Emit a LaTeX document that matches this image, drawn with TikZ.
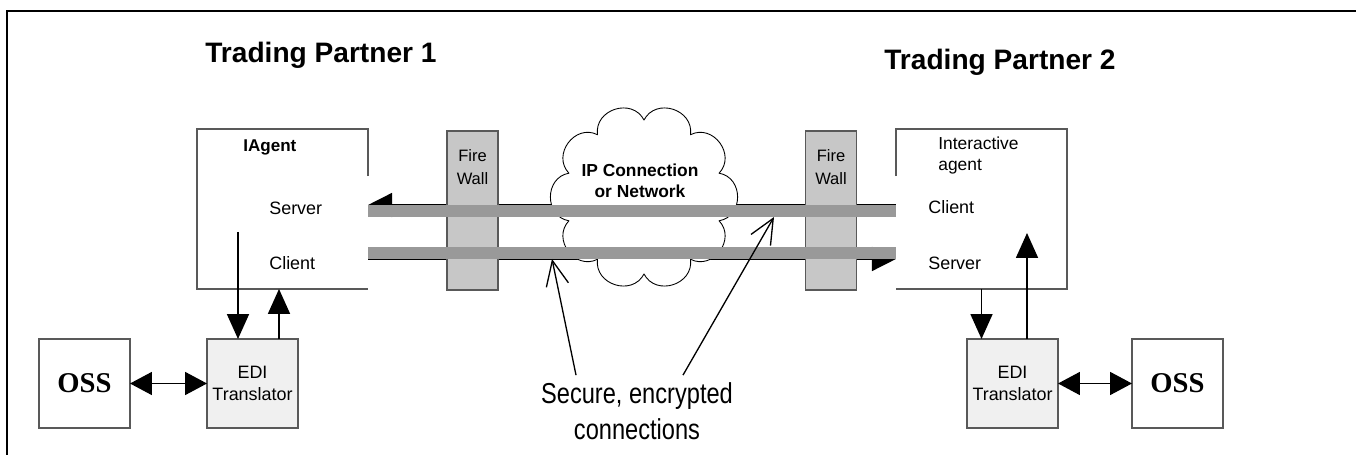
\documentclass[tikz,border=0pt]{standalone}
\usepackage{fontspec}
\setmainfont{Liberation Sans}
\newfontfamily\ossfont{Liberation Serif}
\newfontfamily\narrowfont[FakeStretch=0.82]{Liberation Sans}
\usepackage{tikz}
\usetikzlibrary{arrows.meta, calc, positioning}
\definecolor{boxline}{gray}{0.35}
\definecolor{wallgray}{gray}{0.78}
\definecolor{pipegray}{gray}{0.6}
\definecolor{edifill}{gray}{0.94}
\tikzset{
  frameline/.style  = {draw=black, line width=0.85pt},
  agentbox/.style   = {rectangle, minimum width=3.42cm, minimum height=3.2cm,
                       inner sep=0pt, outer sep=0pt},
  agentedge/.style  = {draw=boxline, line width=0.6pt},
  wallbox/.style    = {rectangle, draw=boxline, fill=wallgray, line width=0.6pt,
                       minimum width=1.02cm, minimum height=3.18cm, inner sep=0pt},
  walltext/.style   = {align=center, inner sep=0pt,
                       font=\fontsize{9.4}{13}\selectfont},
  netcloud/.style   = {draw=black, fill=white, line width=0.5pt, line join=round},
  puff/.style       = {bend left=80, looseness=1.35},
  nettext/.style    = {align=center, inner sep=0pt,
                       font=\bfseries\fontsize{9.9}{12}\selectfont},
  pipeslot/.style   = {rectangle, minimum width=10.56cm, minimum height=0.24cm,
                       inner sep=0pt, outer sep=0pt},
  pipe/.style       = {fill=pipegray},
  edibox/.style     = {rectangle, draw=boxline, fill=edifill, line width=0.6pt,
                       minimum width=1.82cm, minimum height=1.78cm, inner sep=0pt,
                       outer sep=0pt, align=center,
                       font=\fontsize{10.2}{12.6}\selectfont},
  ossbox/.style     = {rectangle, draw=boxline, fill=white, line width=0.6pt,
                       minimum width=1.82cm, minimum height=1.78cm, inner sep=0pt,
                       outer sep=0pt, font=\ossfont\bfseries\fontsize{16.3}{18}\selectfont},
  flow/.style       = {draw=black, line width=1pt,
                       -{Triangle[length=0.5cm, width=0.44cm]}},
  flowboth/.style   = {draw=black, line width=1pt,
                       {Triangle[length=0.44cm, width=0.46cm]}-{Triangle[length=0.44cm, width=0.46cm]}},
  pipeflow/.style   = {draw=black, line width=0.85pt,
                       -{Triangle[length=0.48cm, width=0.48cm]}},
  pointer/.style    = {draw=black, line width=0.75pt,
                       -{Straight Barb[length=0.5cm, width=0.45cm]}},
  titletext/.style  = {anchor=base west, inner sep=0pt,
                       font=\bfseries\fontsize{16}{19}\selectfont},
  headtext/.style   = {anchor=base west, inner sep=0pt,
                       font=\bfseries\fontsize{9.7}{12}\selectfont},
  porttext/.style   = {anchor=base west, inner sep=0pt,
                       font=\fontsize{10.2}{12}\selectfont},
  securetext/.style = {align=center, inner sep=4pt,
                       font=\narrowfont\fontsize{16.4}{20.4}\selectfont},
}

\begin{document}
\begin{tikzpicture}[x=0.02cm, y=-0.02cm]
  \useasboundingbox (0,0) rectangle (1356,455);
  \draw[frameline] (7,455) -- (7,11) -- (1356,11);

  \node[titletext] (tp1) at (205,63) {Trading Partner 1};
  \node[titletext] (tp2) at (884,70) {Trading Partner 2};

  % slots for the two links, filled after the walls and the cloud
  \node[pipeslot] (pipeTop) at (632,211) {};
  \node[pipeslot] (pipeBot) at (632,253) {};
  \draw[pipeflow] (pipeTop.north east) -- (pipeTop.north west);
  \draw[pipeflow] (pipeBot.south west) -- (pipeBot.south east);

  \node[wallbox] (fwL) at (472.5,210.5) {};
  \node[wallbox] (fwR) at (831,210.5) {};
  \node[walltext, below=0.38cm of fwL.north] (fwLtxt) {Fire\\Wall};
  \node[walltext, below=0.38cm of fwR.north] (fwRtxt) {Fire\\Wall};

  % the network cloud
  \draw[netcloud] (644,120) to[puff] (690.5,134.7) to[puff] (719.1,173.2)
    to[puff] (719.1,220.8) to[puff] (690.5,259.3) to[puff] (644,274)
    to[puff] (597.5,259.3) to[puff] (568.9,220.8) to[puff] (568.9,173.2)
    to[puff] (597.5,134.7) to[puff] (644,120) -- cycle;
  \node[nettext] (net) at (640,181) {IP Connection\\or Network};

  \fill[pipe] (pipeTop.south west) rectangle (pipeTop.north east);
  \fill[pipe] (pipeBot.south west) rectangle (pipeBot.north east);

  % partner 1
  \node[agentbox] (agentL) at (282.5,209) {};
  \draw[agentedge] ($(agentL.north east)+(0,47)$) -- (agentL.north east)
    -- (agentL.north west) -- (agentL.south west) -- (agentL.south east);
  \node[headtext] (iaL) at (243,152) {IAgent};
  \node[porttext] (srvLtxt) at (269,215) {Server};
  \node[porttext] (cliLtxt) at (269,270) {Client};
  \node[edibox] (ediL) at (252.5,383.5) {EDI\\Translator};
  \node[ossbox] (ossL) at (84.5,383.5) {OSS};
  \coordinate (srvL) at (238,232);
  \draw[flow] (srvL) -- (srvL |- ediL.north);
  \draw[flow] ([xshift=0.53cm]ediL.north) -- ([xshift=0.53cm]ediL.north |- agentL.south);
  \draw[flowboth] (ossL) -- (ediL);

  % partner 2
  \node[agentbox] (agentR) at (981.5,209) {};
  \draw[agentedge] ($(agentR.north west)+(0,47)$) -- (agentR.north west)
    -- (agentR.north east) -- (agentR.south east) -- (agentR.south west);
  \node[porttext, anchor=north west, align=left, font=\fontsize{9.9}{11.9}\selectfont]
    (iaR) at (938,137) {Interactive\\agent};
  \node[porttext] (cliRtxt) at (928,214) {Client};
  \node[porttext] (srvRtxt) at (928,270) {Server};
  \node[edibox] (ediR) at (1012.5,383.5) {EDI\\Translator};
  \node[ossbox] (ossR) at (1177.5,383.5) {OSS};
  \coordinate (cliR) at (1027,233);
  \draw[flow] (agentR.south) -- (agentR.south |- ediR.north);
  \draw[flow] (cliR |- ediR.north) -- (cliR);
  \draw[flowboth] (ediR) -- (ossR);

  % callout
  \node[securetext] (secure) at (637,411) {Secure, encrypted\\connections};
  \coordinate (encBot) at (552,259);
  \coordinate (encTop) at (774,217);
  \draw[pointer] ([xshift=-1.22cm]secure.north) -- (encBot);
  \draw[pointer] ([xshift=0.92cm]secure.north) -- (encTop);
\end{tikzpicture}
\end{document}
